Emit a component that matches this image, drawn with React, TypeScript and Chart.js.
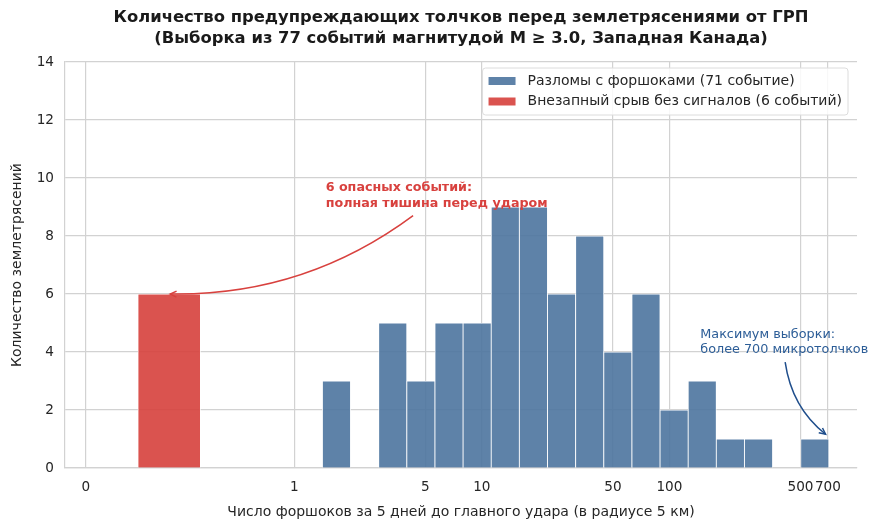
import React, { useEffect, useRef } from "react";
import { Chart, registerables, Plugin } from "chart.js";

Chart.register(...registerables);

// symlog axis like matplotlib (linthresh = 1, linscale = 1, base 10)
const LIN_SCALE = 1 / (1 - 1 / 10);
const symlog = (v: number) => (v <= 1 ? v * LIN_SCALE : LIN_SCALE + Math.log10(v));

const X_RANGE = [-0.1, 1000];
const X_TICKS = [0, 1, 5, 10, 50, 100, 500, 700];
const X_TICK_LABELS = ["0", "1", "5", "10", "50", "100", "500", "700"];

// histogram of foreshock counts (log bins)
const BIN_EDGES = [
  1, 1.413, 1.995, 2.818, 3.981, 5.623, 7.943, 11.22, 15.85, 22.39, 31.62,
  44.67, 63.1, 89.13, 125.9, 177.8, 251.2, 354.8, 501.2, 707.9, 1000,
];
const FORESHOCK_COUNTS = [0, 3, 0, 5, 3, 5, 5, 9, 9, 6, 8, 4, 6, 2, 3, 1, 1, 0, 1, 0];

// events without any foreshocks, drawn left of 1
const SILENT_EDGES = [0.25, 0.55];
const SILENT_COUNT = 6;

const TITLE = [
  "Количество предупреждающих толчков перед землетрясениями от ГРП",
  "(Выборка из 77 событий магнитудой M ≥ 3.0, Западная Канада)",
];
const X_LABEL = "Число форшоков за 5 дней до главного удара (в радиусе 5 км)";
const Y_LABEL = "Количество землетрясений";
const LEGEND = ["Разломы с форшоками (71 событие)", "Внезапный срыв без сигналов (6 событий)"];

const RED_NOTE = ["6 опасных событий:", "полная тишина перед ударом"];
const BLUE_NOTE = ["Максимум выборки:", "более 700 микротолчков"];

const BLUE = "rgba(76, 116, 158, 0.9)";
const RED = "rgba(214, 64, 60, 0.9)";
const GRID = "#d2d2d2";
const TEXT = "#262626";
const FONT = "'DejaVu Sans', sans-serif";

const binCenters = FORESHOCK_COUNTS.map(
  (_, i) => (symlog(BIN_EDGES[i]) + symlog(BIN_EDGES[i + 1])) / 2
);
const silentCenter = (symlog(SILENT_EDGES[0]) + symlog(SILENT_EDGES[1])) / 2;
const silentRatio =
  (symlog(SILENT_EDGES[1]) - symlog(SILENT_EDGES[0])) / (symlog(X_RANGE[1]) - symlog(X_RANGE[0]));

function drawArrow(
  ctx: CanvasRenderingContext2D,
  x0: number, y0: number, x1: number, y1: number,
  rad: number, color: string, shrink: number
) {
  const mx = (x0 + x1) / 2;
  const my = (y0 + y1) / 2;
  const cx = mx + rad * (y1 - y0);
  const cy = my - rad * (x1 - x0);
  // pull the end back along the tangent
  const tx = x1 - cx;
  const ty = y1 - cy;
  const tl = Math.hypot(tx, ty);
  const ex = x1 - (tx / tl) * shrink;
  const ey = y1 - (ty / tl) * shrink;
  ctx.save();
  ctx.strokeStyle = color;
  ctx.lineWidth = 1.5;
  ctx.beginPath();
  ctx.moveTo(x0, y0);
  ctx.quadraticCurveTo(cx, cy, ex, ey);
  ctx.stroke();
  const ang = Math.atan2(ey - cy, ex - cx);
  const hl = 7;
  ctx.beginPath();
  ctx.moveTo(ex - hl * Math.cos(ang - 0.45), ey - hl * Math.sin(ang - 0.45));
  ctx.lineTo(ex, ey);
  ctx.lineTo(ex - hl * Math.cos(ang + 0.45), ey - hl * Math.sin(ang + 0.45));
  ctx.stroke();
  ctx.restore();
}

const decorPlugin: Plugin = {
  id: "decor",
  afterDraw(chart) {
    const { ctx, chartArea: area, scales } = chart;
    const xs = scales.x;
    const ys = scales.y;
    const px = (v: number) => xs.getPixelForValue(symlog(v));
    const py = (v: number) => ys.getPixelForValue(v);
    const cx = (area.left + area.right) / 2;

    ctx.save();
    ctx.textBaseline = "middle";

    // title
    ctx.fillStyle = "#1a1a1a";
    ctx.textAlign = "center";
    ctx.font = `bold 16.4px ${FONT}`;
    ctx.fillText(TITLE[0], cx, 18);
    ctx.fillText(TITLE[1], cx, 38.5);

    // axis labels
    ctx.fillStyle = TEXT;
    ctx.font = `14px ${FONT}`;
    ctx.fillText(X_LABEL, cx, 512);
    ctx.save();
    ctx.translate(17, (area.top + area.bottom) / 2);
    ctx.rotate(-Math.PI / 2);
    ctx.fillText(Y_LABEL, 0, 0);
    ctx.restore();

    // legend
    ctx.font = `14px ${FONT}`;
    const tw = Math.max(...LEGEND.map((s) => ctx.measureText(s).width));
    const bw = 6 + 27 + 12 + tw + 6;
    const bx = area.right - 9 - bw;
    const by = area.top + 6;
    ctx.fillStyle = "rgba(255,255,255,0.85)";
    ctx.strokeStyle = "#dcdcdc";
    ctx.lineWidth = 1;
    ctx.beginPath();
    ctx.roundRect(bx, by, bw, 47, 3);
    ctx.fill();
    ctx.stroke();
    [BLUE, RED].forEach((c, i) => {
      const ry = by + 13 + i * 20.5;
      ctx.fillStyle = c;
      ctx.fillRect(bx + 6, ry - 4, 27, 8);
      ctx.fillStyle = TEXT;
      ctx.textAlign = "left";
      ctx.fillText(LEGEND[i], bx + 45, ry);
    });

    // red annotation
    ctx.fillStyle = "#d8413e";
    ctx.font = `bold 12.7px ${FONT}`;
    ctx.textAlign = "left";
    ctx.fillText(RED_NOTE[0], px(1.47), py(9.68));
    ctx.fillText(RED_NOTE[1], px(1.47), py(9.68) + 16.5);
    drawArrow(ctx, px(4.3), py(8.7), xs.getPixelForValue(silentCenter), py(SILENT_COUNT), 0.17, "#d8413e", 1);

    // blue annotation
    ctx.fillStyle = "#2c5d97";
    ctx.font = `12.8px ${FONT}`;
    ctx.fillText(BLUE_NOTE[0], px(146), py(4.6));
    ctx.fillText(BLUE_NOTE[1], px(146), py(4.6) + 15);
    drawArrow(ctx, px(414), py(3.65), px(700), py(1.1), -0.2, "#1f4e8c", 3);

    ctx.restore();
  },
};

export default function App() {
  const canvasRef = useRef<HTMLCanvasElement | null>(null);

  useEffect(() => {
    if (!canvasRef.current) return;
    Chart.defaults.font.family = FONT;
    const chart = new Chart(canvasRef.current, {
      type: "bar",
      data: {
        datasets: [
          {
            label: LEGEND[0],
            data: binCenters.map((x, i) => ({ x, y: FORESHOCK_COUNTS[i] })),
            backgroundColor: BLUE,
            borderColor: "#ffffff",
            borderWidth: 0.8,
            barThickness: "flex",
            barPercentage: 1,
            categoryPercentage: 1,
            stack: "hist",
          },
          {
            label: LEGEND[1],
            data: [{ x: silentCenter, y: SILENT_COUNT }],
            backgroundColor: RED,
            borderColor: "#ffffff",
            borderWidth: 0.8,
            barThickness: "flex",
            barPercentage: silentRatio,
            categoryPercentage: 1,
            stack: "hist",
          },
        ],
      },
      options: {
        responsive: false,
        animation: false,
        layout: { padding: { left: 0, right: 20, top: 62, bottom: 0 } },
        plugins: {
          legend: { display: false },
          title: { display: false },
          tooltip: { enabled: false },
        },
        scales: {
          x: {
            type: "linear",
            offset: false,
            min: symlog(X_RANGE[0]),
            max: symlog(X_RANGE[1]),
            afterBuildTicks: (scale: any) => {
              scale.ticks = X_TICKS.map((v) => ({ value: symlog(v) }));
            },
            afterFit: (scale: any) => {
              scale.height = 62;
            },
            ticks: {
              autoSkip: false,
              maxRotation: 0,
              minRotation: 0,
              padding: 11,
              color: TEXT,
              font: { size: 13.6 },
              callback: (_v: any, i: number) => X_TICK_LABELS[i],
            },
            grid: { color: GRID, lineWidth: 1.2, drawTicks: false, offset: false },
            border: { display: true, color: GRID, width: 1.2 },
          },
          y: {
            min: 0,
            max: 14,
            afterFit: (scale: any) => {
              scale.width = 65;
            },
            ticks: { stepSize: 2, padding: 11, color: TEXT, font: { size: 13.6 } },
            grid: { color: GRID, lineWidth: 1.2, drawTicks: false },
            border: { display: true, color: GRID, width: 1.2 },
          },
        },
      },
      plugins: [decorPlugin],
    });
    return () => chart.destroy();
  }, []);

  return (
    <div style={{ position: "absolute", left: 0, top: 0, width: 877, height: 530, background: "#fff" }}>
      <canvas ref={canvasRef} width={877} height={530} style={{ display: "block" }} />
    </div>
  );
}
